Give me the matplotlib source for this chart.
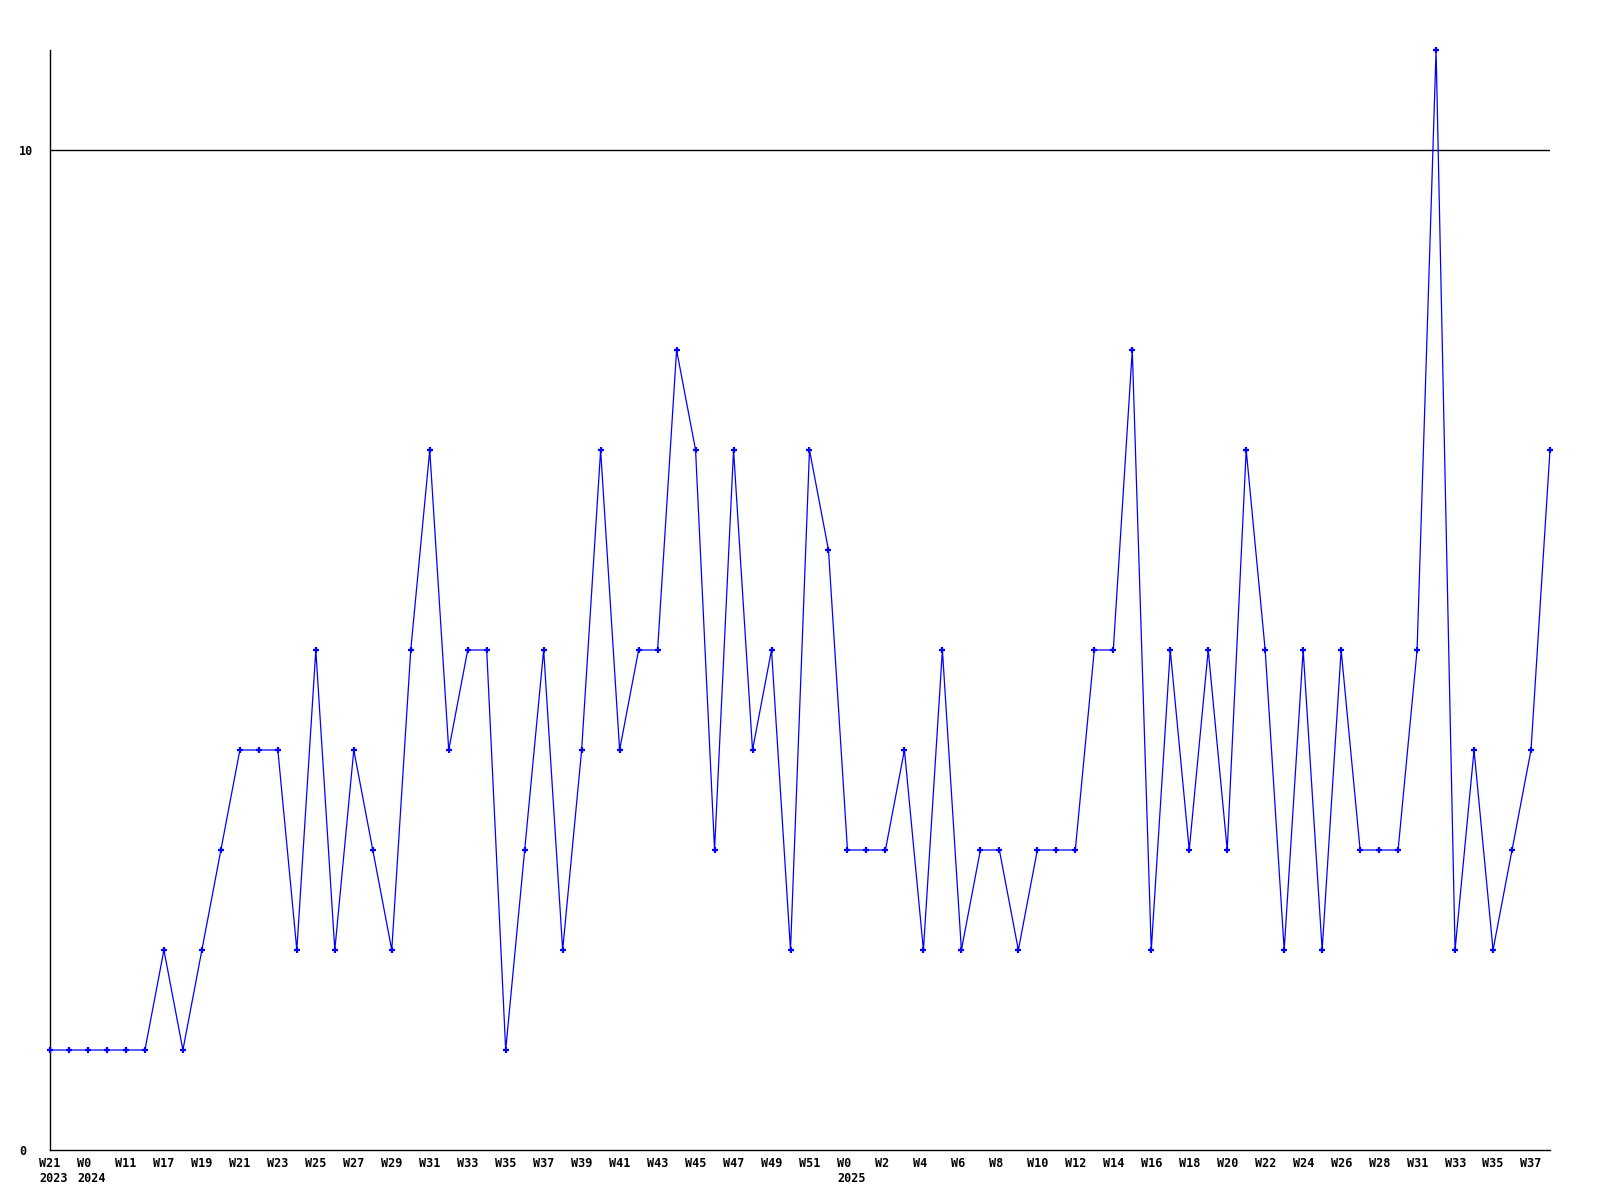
import numpy as np
import matplotlib
matplotlib.use('Agg')
import matplotlib.pyplot as plt

# weekly counts, one per observed week
counts = [1, 1, 1, 1, 1, 1, 2, 1, 2, 3,
          4, 4, 4, 2, 5, 2, 4, 3, 2, 5,
          7, 4, 5, 5, 1, 3, 5, 2, 4, 7,
          4, 5, 5, 8, 7, 3, 7, 4, 5, 2,
          7, 6, 3, 3, 3, 4, 2, 5, 2, 3,
          3, 2, 3, 3, 3, 5, 5, 8, 2, 5,
          3, 5, 3, 7, 5, 2, 5, 2, 5, 3,
          3, 3, 5, 11, 2, 4, 2, 3, 4, 7]

# labels shown on every other point
week_labels = ['W21\n2023', 'W0\n2024', 'W11', 'W17', 'W19', 'W21', 'W23', 'W25',
               'W27', 'W29', 'W31', 'W33', 'W35', 'W37', 'W39', 'W41', 'W43',
               'W45', 'W47', 'W49', 'W51', 'W0\n2025', 'W2', 'W4', 'W6', 'W8',
               'W10', 'W12', 'W14', 'W16', 'W18', 'W20', 'W22', 'W24', 'W26',
               'W28', 'W31', 'W33', 'W35', 'W37']
y_ticks = [0, 10]


def main():
    fig = plt.figure(figsize=(16, 12), dpi=100)
    ax = fig.add_axes([50 / 1600, 50 / 1200, 1500 / 1600, 1100 / 1200])

    x = np.arange(len(counts))
    ax.plot(x, counts, color='#0000ff', linewidth=0.9,
            marker='+', markersize=4.5, markeredgewidth=1.6,
            zorder=3, clip_on=False)

    ax.set_xlim(0, len(counts) - 1)
    ax.set_ylim(0, 11)

    for s in ['top', 'right']:
        ax.spines[s].set_visible(False)
    for s in ['left', 'bottom']:
        ax.spines[s].set_color('black')
        ax.spines[s].set_linewidth(1.0)

    ax.axhline(10, color='black', linewidth=1.0, zorder=1)

    font = dict(family='DejaVu Sans Mono', weight='bold', size=8.5)

    # x labels start a little left of their point, lines left-aligned
    ax.set_xticks([])
    for i, lab in zip(x[::2], week_labels):
        ax.annotate(lab, xy=(i, 0), xycoords=ax.get_xaxis_transform(),
                    xytext=(-7.6, -5), textcoords='offset points',
                    ha='left', va='top', multialignment='left',
                    linespacing=1.2, annotation_clip=False, **font)

    ax.set_yticks(y_ticks)
    ax.set_yticklabels([str(v) for v in y_ticks], **font)
    for lbl in ax.get_yticklabels():
        lbl.set_horizontalalignment('left')
    ax.tick_params(axis='y', length=0, pad=22.5)

    fig.savefig('out.png', dpi=100, facecolor='white')


if __name__ == '__main__':
    main()
